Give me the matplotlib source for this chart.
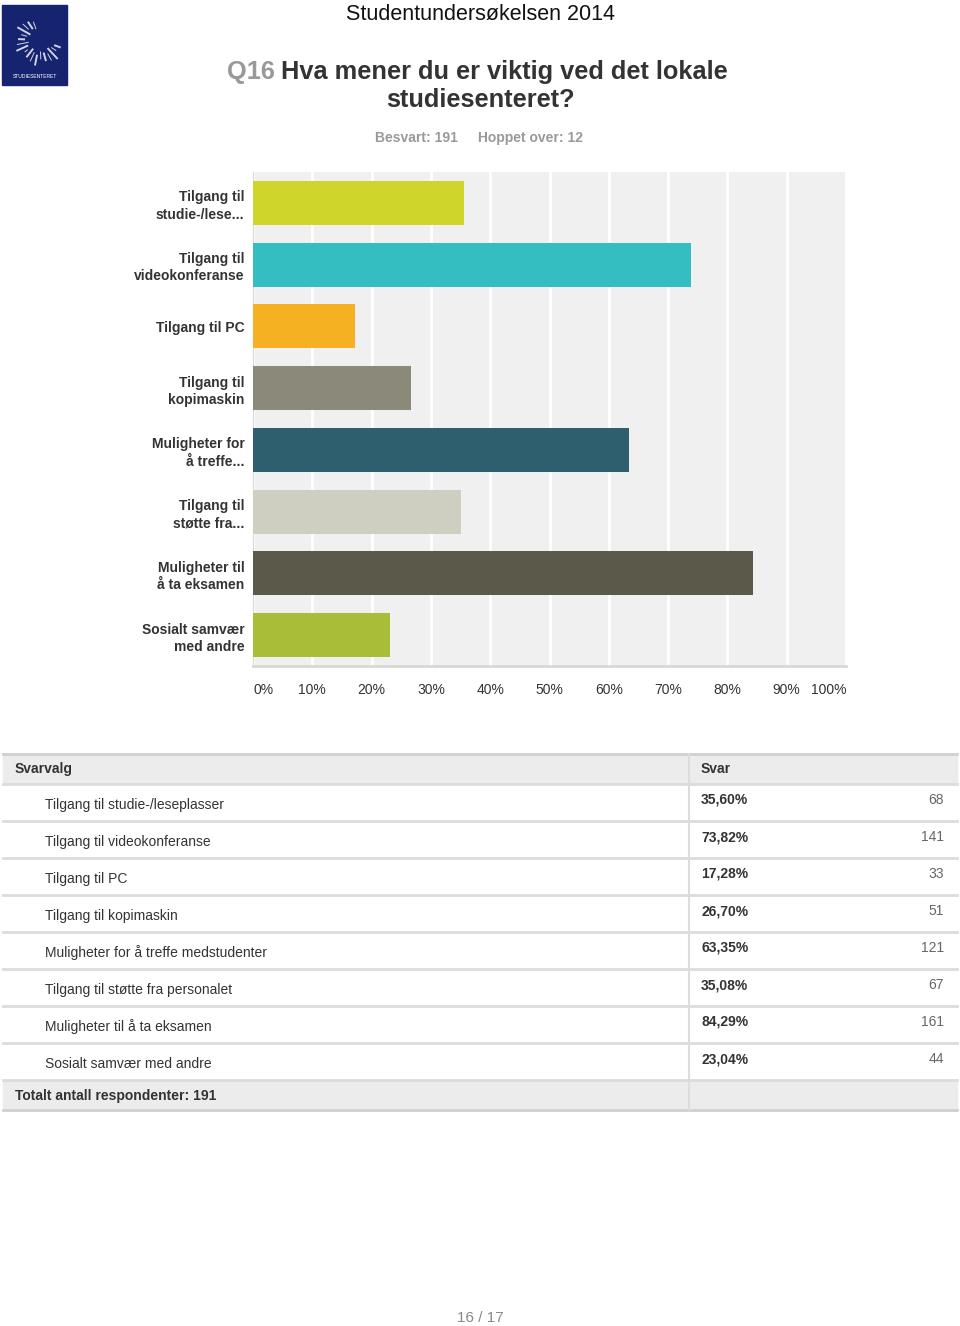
import numpy as np
import matplotlib.pyplot as plt
from matplotlib.patches import Rectangle

plt.rcParams['font.family'] = ['Liberation Sans', 'DejaVu Sans']

# chart data
short_labels = [
    'Tilgang til\nstudie-/lese...',
    'Tilgang til\nvideokonferanse',
    'Tilgang til PC',
    'Tilgang til\nkopimaskin',
    'Muligheter for\nå treffe...',
    'Tilgang til\nstøtte fra...',
    'Muligheter til\nå ta eksamen',
    'Sosialt samvær\nmed andre',
]
full_labels = [
    'Tilgang til studie-/leseplasser',
    'Tilgang til videokonferanse',
    'Tilgang til PC',
    'Tilgang til kopimaskin',
    'Muligheter for å treffe medstudenter',
    'Tilgang til støtte fra personalet',
    'Muligheter til å ta eksamen',
    'Sosialt samvær med andre',
]
percents = [35.60, 73.82, 17.28, 26.70, 63.35, 35.08, 84.29, 23.04]
counts = [68, 141, 33, 51, 121, 67, 161, 44]
bar_colors = ['#cfd52b', '#35bec1', '#f6b123', '#8b8a7a',
              '#2e5f6e', '#cfcfc1', '#5b5a4a', '#a9bd38']
x_ticks = [0, 10, 20, 30, 40, 50, 60, 70, 80, 90, 100]
total = 191
skipped = 12

W, H = 960, 1326
fig = plt.figure(figsize=(W / 100, H / 100), dpi=100)

# page overlay in pixel coordinates
page = fig.add_axes([0, 0, 1, 1])
page.set_xlim(0, W)
page.set_ylim(H, 0)
page.axis('off')

# logo
page.add_patch(Rectangle((2, 5), 65, 80, color='#16236f', zorder=1))
for i, ang in enumerate(np.linspace(70, -160, 18)):
    a = np.radians(ang)
    r0, r1 = 12 + (i % 3) * 2, 19 + (i % 4) * 2
    cx, cy = 40, 40
    page.plot([cx - r0 * np.cos(a), cx - r1 * np.cos(a)],
              [cy - r0 * np.sin(a), cy - r1 * np.sin(a)],
              color='white', lw=1.4 if i % 2 else 0.7, alpha=0.8, zorder=2)
page.text(34.5, 77, 'STUDIESENTERET', color='white', fontsize=3.6,
          ha='center', va='center', zorder=3)

# headings
page.text(480, 14, 'Studentundersøkelsen 2014', fontsize=15.5,
          color='#111111', ha='center', va='center')
page.text(275, 72, 'Q16', fontsize=18.3, color='#999999',
          fontweight='bold', ha='right', va='center')
page.text(281, 72, 'Hva mener du er viktig ved det lokale', fontsize=18.3,
          color='#333333', fontweight='bold', ha='left', va='center')
page.text(480, 100, 'studiesenteret?', fontsize=18.3, color='#333333',
          fontweight='bold', ha='center', va='center')
page.text(416, 138, f'Besvart: {total}', fontsize=10, color='#999999',
          fontweight='bold', ha='center', va='center')
page.text(530, 138, f'Hoppet over: {skipped}', fontsize=10, color='#999999',
          fontweight='bold', ha='center', va='center')

# bar chart
ax = fig.add_axes([253 / W, 1 - 666 / H, (846 - 253) / W, (666 - 172) / H])
ax.set_facecolor('#f0f0f0')
ypos = np.arange(len(percents))
ax.barh(ypos, percents, height=0.71, color=bar_colors, zorder=3)
ax.set_xlim(0, 100)
ax.set_ylim(len(percents) - 0.5, -0.5)
ax.set_xticks(x_ticks)
ax.set_xticklabels([f'{t}%' for t in x_ticks])
ax.set_yticks(ypos)
ax.set_yticklabels(short_labels, fontsize=10, color='#333333',
                   fontweight='bold', linespacing=1.3)
ax.grid(axis='x', color='white', lw=2, zorder=1)
ax.tick_params(axis='both', length=0)
ax.tick_params(axis='x', pad=12, labelsize=10, labelcolor='#333333')
ax.tick_params(axis='y', pad=6)
xl = ax.get_xticklabels()
xl[0].set_ha('left')
xl[-1].set_ha('right')
for side in ['top', 'right']:
    ax.spines[side].set_visible(False)
ax.spines['left'].set_color('#d8d8d8')
ax.spines['bottom'].set_color('#d8d8d8')
ax.spines['bottom'].set_linewidth(2)

# table
tx0, tx1, tdiv = 3, 957, 689
head_top, head_bot = 754, 784
row_h = 37
n = len(full_labels)
rows_bot = head_bot + n * row_h
tot_bot = rows_bot + 30
line_c = '#dcdcdc'

page.add_patch(Rectangle((tx0, head_top), tx1 - tx0, head_bot - head_top,
                         color='#ececec', zorder=1))
page.add_patch(Rectangle((tx0, rows_bot), tx1 - tx0, tot_bot - rows_bot,
                         color='#ececec', zorder=1))
page.plot([tx0, tx1], [head_top, head_top], color='#d0d0d0', lw=2, zorder=2)
for k in range(n + 1):
    yy = head_bot + k * row_h
    page.plot([tx0, tx1], [yy, yy], color=line_c, lw=2, zorder=2)
page.plot([tx0, tx1], [tot_bot, tot_bot], color='#d0d0d0', lw=2, zorder=2)
page.plot([tdiv, tdiv], [head_top, tot_bot], color=line_c, lw=1.5, zorder=2)

page.text(15, 769, 'Svarvalg', fontsize=10, fontweight='bold',
          color='#333333', va='center')
page.text(701, 769, 'Svar', fontsize=10, fontweight='bold',
          color='#333333', va='center')
for k, (lab, p, c) in enumerate(zip(full_labels, percents, counts)):
    top = head_bot + k * row_h
    page.text(45, top + 21, lab, fontsize=10, color='#333333', va='center')
    page.text(701, top + 16, f'{p:.2f}%'.replace('.', ','), fontsize=10,
              fontweight='bold', color='#333333', va='center')
    page.text(944, top + 16, str(c), fontsize=10, color='#666666',
              ha='right', va='center')
page.text(15, (rows_bot + tot_bot) / 2 + 1,
          f'Totalt antall respondenter: {total}', fontsize=10,
          fontweight='bold', color='#333333', va='center')

page.text(480, 1318, '16 / 17', fontsize=11, color='#888888',
          ha='center', va='center')

fig.savefig('out.png', dpi=100)
